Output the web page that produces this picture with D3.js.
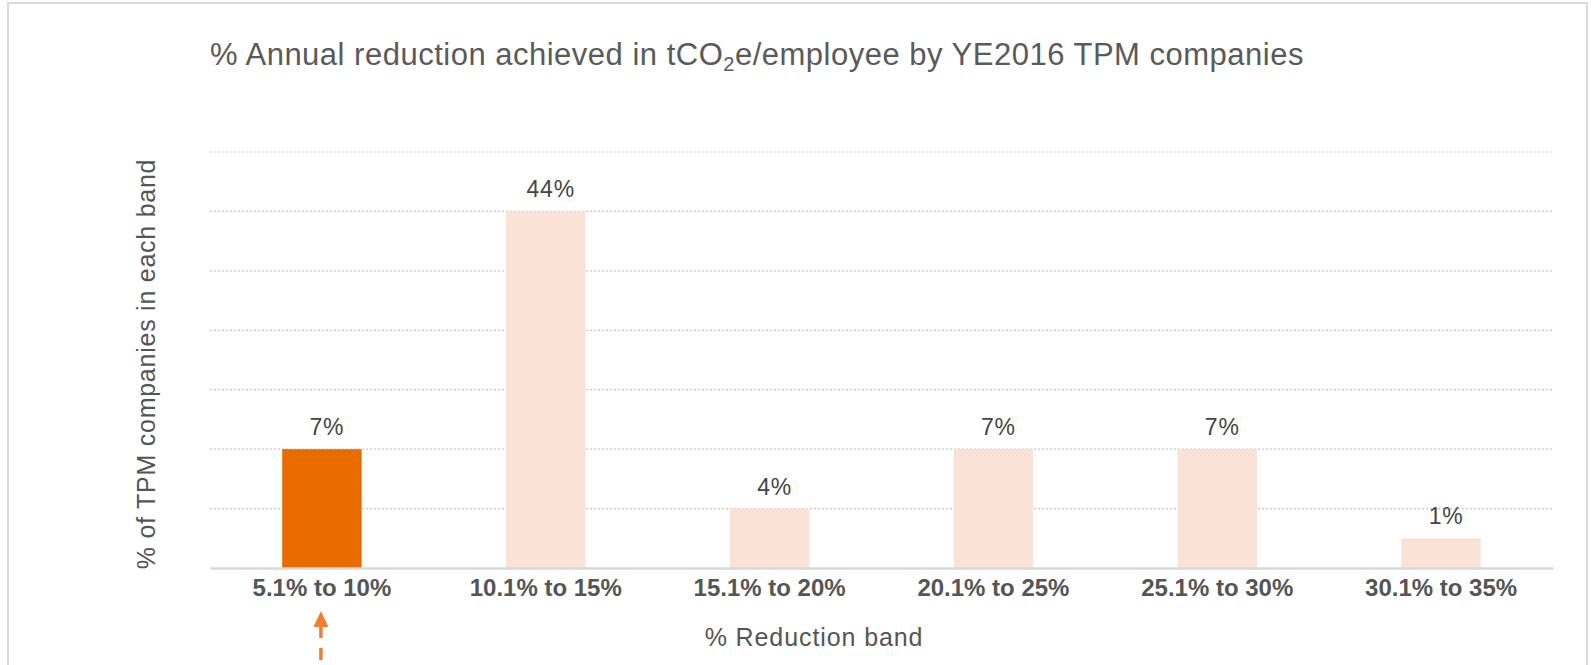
<!DOCTYPE html>
<html>
<head>
<meta charset="utf-8">
<script src="https://cdn.jsdelivr.net/npm/d3@7"></script>
<style>
  body { margin: 0; background: #fff; }
  svg { display: block; font-family: "Liberation Sans", Arial, Helvetica, sans-serif; }
</style>
</head>
<body>
<svg width="1591" height="665"></svg>
<script>
// data
const bands = ['5.1% to 10%', '10.1% to 15%', '15.1% to 20%', '20.1% to 25%', '25.1% to 30%', '30.1% to 35%'];
const barHeights = [2, 6, 1, 2, 2, 0.5];   // height of each bar in gridline units
const barLabels = ['7%', '44%', '4%', '7%', '7%', '1%'];
const highlight = ['5.1% to 10%'];
const gridTicks = [1, 2, 3, 4, 5, 6, 7];

const svg = d3.select('svg');
const svgW = +svg.attr('width');
const svgH = +svg.attr('height');

const margin = { top: 152, left: 210, bottom: 97, right: 38 };
const innerWidth = svgW - margin.left - margin.right;
const innerHeight = svgH - margin.top - margin.bottom;

// frame round the chart (bottom edge runs off the page)
svg.append('path')
  .attr('d', `M8,${svgH} L8,3 L1587,3 L1587,${svgH}`)
  .attr('fill', 'none')
  .attr('stroke', '#dadada')
  .attr('stroke-width', 2);

// title with subscript
const title = svg.append('text')
  .attr('x', 210).attr('y', 65)
  .attr('fill', '#5a5a5a')
  .style('font-size', '31px')
  .style('letter-spacing', '0.5px');
title.append('tspan').text('% Annual reduction achieved in tCO');
title.append('tspan').text('2').attr('dy', 6).style('font-size', '20px');
title.append('tspan').text('e/employee by YE2016 TPM companies').attr('dy', -6);

const xScale = d3.scaleBand()
  .domain(bands)
  .range([0, innerWidth])
  .paddingInner(0.645)
  .paddingOuter(0.3225);

const yScale = d3.scaleLinear()
  .domain([0, 7])
  .range([innerHeight, 0]);

const g = svg.append('g')
  .attr('transform', `translate(${margin.left}, ${margin.top})`);

// dotted gridlines
g.append('g')
  .selectAll('line')
  .data(gridTicks)
  .enter().append('line')
  .attr('x1', 0).attr('x2', innerWidth)
  .attr('y1', d => yScale(d)).attr('y2', d => yScale(d))
  .attr('stroke', '#c8c8c8')
  .attr('stroke-width', 1.2)
  .attr('stroke-dasharray', '2,2');

// bars
g.selectAll('rect.bar')
  .data(bands)
  .enter().append('rect')
  .attr('class', 'bar')
  .attr('x', d => xScale(d))
  .attr('width', xScale.bandwidth())
  .attr('y', (d, i) => yScale(barHeights[i]))
  .attr('height', (d, i) => innerHeight - yScale(barHeights[i]))
  .attr('fill', d => highlight.includes(d) ? '#e86c00' : '#fae3d6');

// value labels
g.selectAll('text.val')
  .data(bands)
  .enter().append('text')
  .attr('class', 'val')
  .attr('x', d => xScale(d) + xScale.bandwidth() / 2 + 5)
  .attr('y', (d, i) => yScale(barHeights[i]) - 14)
  .attr('text-anchor', 'middle')
  .attr('fill', '#454545')
  .style('font-size', '23px')
  .style('letter-spacing', '0.8px')
  .text((d, i) => barLabels[i]);

// x axis: baseline + bold band labels
const xAxis = g.append('g')
  .attr('transform', `translate(0, ${innerHeight})`)
  .call(d3.axisBottom(xScale).tickSize(0).tickPadding(11));
xAxis.select('.domain')
  .attr('stroke', '#d9d9d9')
  .attr('stroke-width', 2.5);
xAxis.selectAll('text')
  .attr('fill', '#555')
  .style('font-size', '24px')
  .style('font-weight', 'bold')
  .style('font-family', '"Liberation Sans", Arial, sans-serif');

// axis titles
svg.append('text')
  .attr('transform', 'translate(155, 364) rotate(-90)')
  .attr('text-anchor', 'middle')
  .attr('fill', '#555')
  .style('font-size', '25px')
  .style('letter-spacing', '0.75px')
  .text('% of TPM companies in each band');

svg.append('text')
  .attr('x', 814).attr('y', 646)
  .attr('text-anchor', 'middle')
  .attr('fill', '#555')
  .style('font-size', '25px')
  .style('letter-spacing', '0.9px')
  .text('% Reduction band');

// dashed orange arrow under the highlighted band
const ax = margin.left + xScale(highlight[0]) + xScale.bandwidth() / 2 - 1;
svg.append('line')
  .attr('x1', ax).attr('x2', ax)
  .attr('y1', 626).attr('y2', 670)
  .attr('stroke', '#ef7f33')
  .attr('stroke-width', 3.5)
  .attr('stroke-dasharray', '12,10');
svg.append('path')
  .attr('d', `M${ax},611 L${ax - 7.5},627 L${ax + 7.5},627 Z`)
  .attr('fill', '#ef7f33');
</script>
</body>
</html>
